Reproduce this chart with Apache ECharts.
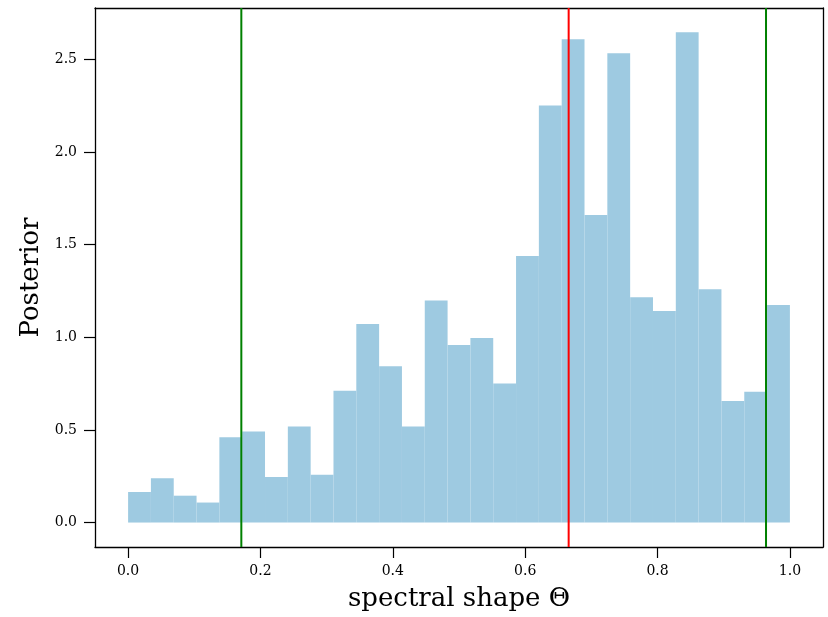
<!DOCTYPE html>
<html>
<head>
<meta charset="utf-8">
<script src="https://cdn.jsdelivr.net/npm/echarts@6/dist/echarts.min.js"></script>
<style>
html,body{margin:0;padding:0;background:#fff;}
#chart{width:828px;height:617px;}
</style>
</head>
<body>
<div id="chart"></div>
<script>
// Histogram: 29 equal bins spanning 0..1
var binStart = 0.0;
var binEnd = 1.0;
var binHeights = [0.165, 0.239, 0.145, 0.108, 0.461, 0.491, 0.246, 0.518, 0.258, 0.712,
                  1.072, 0.844, 0.518, 1.199, 0.959, 0.997, 0.751, 1.439, 2.251, 2.609,
                  1.660, 2.534, 1.217, 1.142, 2.647, 1.260, 0.656, 0.706, 1.174];
var xTicks = [0.0, 0.2, 0.4, 0.6, 0.8, 1.0];
var yTicks = [0.0, 0.5, 1.0, 1.5, 2.0, 2.5];
var medianLine = [0.6657];
var boundLines = [0.1711, 0.9639];

var X_MIN = -0.05, X_MAX = 1.05, Y_MIN = -0.132, Y_MAX = 2.778;

var nb = binHeights.length;
var w = (binEnd - binStart) / nb;
var histData = binHeights.map(function (h, i) {
  return [binStart + i * w, binStart + (i + 1) * w, h];
});

var FONT = 'DejaVu Serif';
var chart = echarts.init(document.getElementById('chart'), null, {renderer: 'canvas'});

var frameLine = {show: true, onZero: false, lineStyle: {color: '#000', width: 1.3}};

function vline(v, color) {
  return {
    type: 'line', xAxisIndex: 0, yAxisIndex: 0,
    data: [[v, Y_MIN], [v, Y_MAX]],
    symbol: 'none', silent: true, z: 5,
    lineStyle: {color: color, width: 2}
  };
}

var series = [{
  type: 'custom',
  xAxisIndex: 0, yAxisIndex: 0,
  data: histData,
  encode: {x: [0, 1], y: 2},
  renderItem: function (params, api) {
    var p0 = api.coord([api.value(0), 0]);
    var p1 = api.coord([api.value(1), api.value(2)]);
    return {
      type: 'rect',
      shape: {x: p0[0], y: p1[1], width: p1[0] - p0[0], height: p0[1] - p1[1]},
      style: {fill: '#9ecae1', lineWidth: 0}
    };
  }
}];
medianLine.forEach(function (v) { series.push(vline(v, '#ff0000')); });
boundLines.forEach(function (v) { series.push(vline(v, '#008000')); });

chart.setOption({
  animation: false,
  backgroundColor: '#fff',
  grid: {left: 95, right: 5, top: 8, bottom: 68, containLabel: false},
  xAxis: [{
    type: 'value', min: X_MIN, max: X_MAX,
    axisLine: frameLine, splitLine: {show: false},
    axisTick: {show: true, length: 11, inside: false, customValues: xTicks, lineStyle: {color: '#000', width: 1.2}},
    axisLabel: {show: true, customValues: xTicks, fontFamily: FONT, fontSize: 14, color: '#000', margin: 17,
      formatter: function (v) { return v.toFixed(1); }},
    name: 'spectral shape \u0398', nameLocation: 'middle', nameGap: 39,
    nameTextStyle: {fontFamily: FONT, fontSize: 26, color: '#000'}
  }, {
    type: 'value', position: 'top', min: X_MIN, max: X_MAX,
    axisLine: frameLine, splitLine: {show: false},
    axisTick: {show: false}, axisLabel: {show: false}
  }],
  yAxis: [{
    type: 'value', min: Y_MIN, max: Y_MAX,
    axisLine: frameLine, splitLine: {show: false},
    axisTick: {show: true, length: 11, inside: false, customValues: yTicks, lineStyle: {color: '#000', width: 1.2}},
    axisLabel: {show: true, customValues: yTicks, fontFamily: FONT, fontSize: 14, color: '#000', margin: 18,
      formatter: function (v) { return v.toFixed(1); }},
    name: 'Posterior', nameLocation: 'middle', nameGap: 49, nameRotate: 90,
    nameTextStyle: {fontFamily: FONT, fontSize: 26, color: '#000'}
  }, {
    type: 'value', position: 'right', min: Y_MIN, max: Y_MAX,
    axisLine: frameLine, splitLine: {show: false},
    axisTick: {show: false}, axisLabel: {show: false}
  }],
  series: series
});
</script>
</body>
</html>
